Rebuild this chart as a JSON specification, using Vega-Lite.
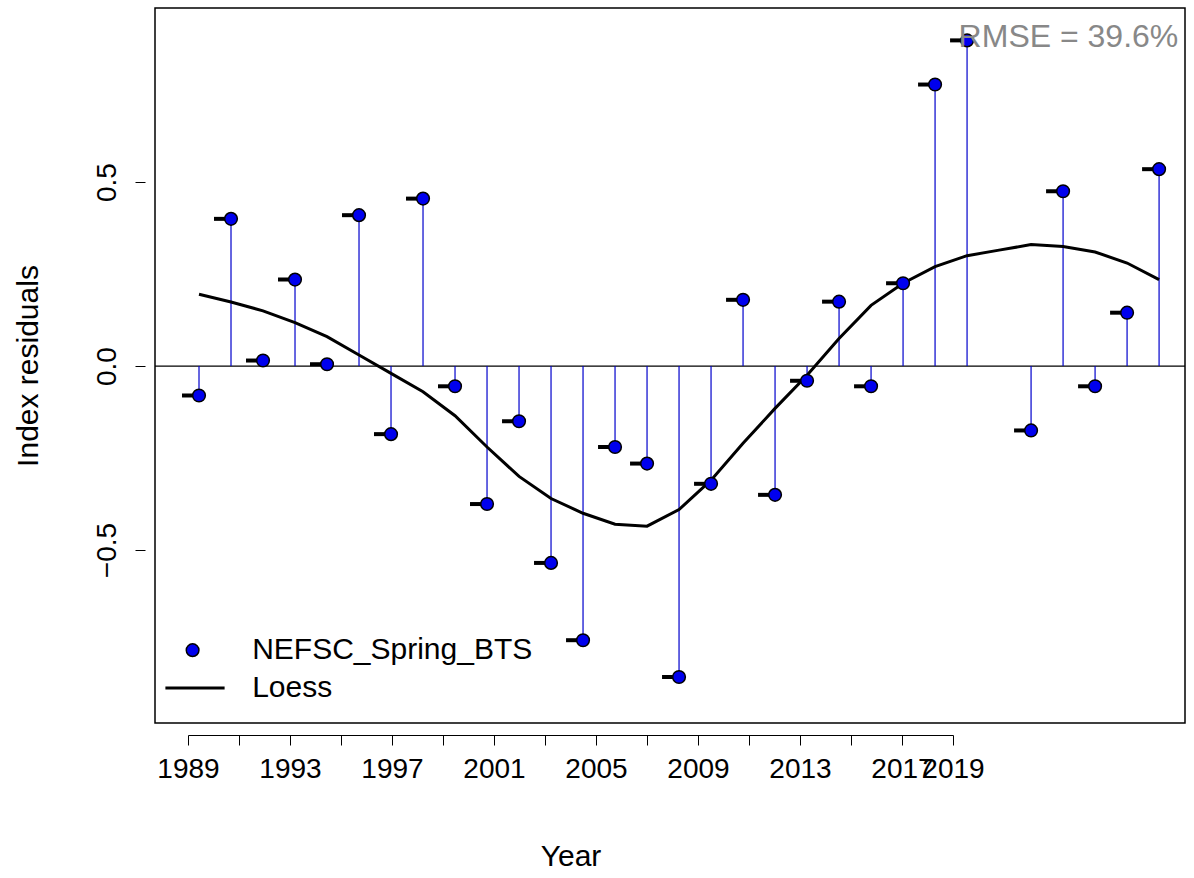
{
"$schema":"https://vega.github.io/schema/vega-lite/v6.json",
"width":1030,"height":715,
"autosize":{"type":"none"},
"padding":{"left":155,"top":8,"right":9,"bottom":155},
"config":{"view":{"stroke":"black","strokeWidth":1.5},"font":"Liberation Sans",
 "axis":{"labelFontSize":28,"labelColor":"black","titleFontSize":30,"titleFontWeight":"normal","titleColor":"black","tickColor":"black","domainColor":"black","grid":false,"tickSize":10}},
"datasets":{
"res":[
{"year":1989,"r":-0.08},{"year":1990,"r":0.40},{"year":1991,"r":0.015},{"year":1992,"r":0.235},{"year":1993,"r":0.005},{"year":1994,"r":0.41},{"year":1995,"r":-0.185},{"year":1996,"r":0.455},{"year":1997,"r":-0.055},{"year":1998,"r":-0.375},{"year":1999,"r":-0.15},{"year":2000,"r":-0.535},{"year":2001,"r":-0.745},{"year":2002,"r":-0.22},{"year":2003,"r":-0.265},{"year":2004,"r":-0.845},{"year":2005,"r":-0.32},{"year":2006,"r":0.18},{"year":2007,"r":-0.35},{"year":2008,"r":-0.04},{"year":2009,"r":0.175},{"year":2010,"r":-0.055},{"year":2011,"r":0.225},{"year":2012,"r":0.765},{"year":2013,"r":0.885},{"year":2015,"r":-0.175},{"year":2016,"r":0.475},{"year":2017,"r":-0.055},{"year":2018,"r":0.145},{"year":2019,"r":0.535}],
"loess":[
{"year":1989,"v":0.195},{"year":1990,"v":0.174},{"year":1991,"v":0.15},{"year":1992,"v":0.118},{"year":1993,"v":0.08},{"year":1994,"v":0.03},{"year":1995,"v":-0.02},{"year":1996,"v":-0.07},{"year":1997,"v":-0.135},{"year":1998,"v":-0.22},{"year":1999,"v":-0.30},{"year":2000,"v":-0.36},{"year":2001,"v":-0.40},{"year":2002,"v":-0.43},{"year":2003,"v":-0.435},{"year":2004,"v":-0.39},{"year":2005,"v":-0.31},{"year":2006,"v":-0.21},{"year":2007,"v":-0.115},{"year":2008,"v":-0.025},{"year":2009,"v":0.075},{"year":2010,"v":0.165},{"year":2011,"v":0.225},{"year":2012,"v":0.27},{"year":2013,"v":0.30},{"year":2014,"v":0.315},{"year":2015,"v":0.33},{"year":2016,"v":0.325},{"year":2017,"v":0.31},{"year":2018,"v":0.28},{"year":2019,"v":0.235}]
},
"resolve":{"scale":{"x":"independent"},"axis":{"x":"independent"}},
"layer":[
{"layer":[
{"data":{"values":[{"z":0}]},"mark":{"type":"rule","color":"black","strokeWidth":1.2},"encoding":{"y":{"field":"z","type":"quantitative"}}},
{"data":{"name":"res"},"mark":{"type":"rule","color":"#0000cc","strokeWidth":1.2},
 "encoding":{"x":{"field":"year","type":"quantitative","scale":{"domain":[1987.625,2019.81],"nice":false,"zero":false},"axis":null},
 "y":{"field":"r","type":"quantitative","scale":{"domain":[-0.97,0.973],"nice":false,"zero":false},
  "axis":{"values":[-0.5,0,0.5],"format":".1f","labelAngle":-90,"labelAlign":"center","labelBaseline":"bottom","domain":false,"offset":10,"labelPadding":14,"title":"Index residuals","titlePadding":50}},
 "y2":{"datum":0}}},
{"data":{"name":"loess"},"mark":{"type":"line","color":"black","strokeWidth":3},"encoding":{"x":{"field":"year","type":"quantitative"},"y":{"field":"v","type":"quantitative"}}},
{"data":{"name":"res"},"mark":{"type":"tick","orient":"horizontal","color":"black","opacity":1,"size":16,"thickness":4,"xOffset":-9},"encoding":{"x":{"field":"year","type":"quantitative"},"y":{"field":"r","type":"quantitative"}}},
{"data":{"name":"res"},"mark":{"type":"point","filled":true,"fill":"#0000ee","stroke":"black","strokeWidth":1.5,"size":160,"opacity":1},"encoding":{"x":{"field":"year","type":"quantitative"},"y":{"field":"r","type":"quantitative"}}},
{"data":{"values":[{"x":1988.8,"y":-0.772}]},"mark":{"type":"point","filled":true,"fill":"#0000ee","stroke":"black","strokeWidth":1.5,"size":160,"opacity":1},"encoding":{"x":{"field":"x","type":"quantitative"},"y":{"field":"y","type":"quantitative"}}},
{"data":{"values":[{"x":1987.95,"y":-0.875},{"x":1989.8,"y":-0.875}]},"mark":{"type":"line","color":"black","strokeWidth":3},"encoding":{"x":{"field":"x","type":"quantitative"},"y":{"field":"y","type":"quantitative"}}},
{"data":{"values":[{"x":1990.66,"y":-0.772,"t":"NEFSC_Spring_BTS"},{"x":1990.66,"y":-0.875,"t":"Loess"}]},"mark":{"type":"text","align":"left","baseline":"middle","fontSize":30},"encoding":{"x":{"field":"x","type":"quantitative"},"y":{"field":"y","type":"quantitative"},"text":{"field":"t"}}},
{"data":{"values":[{"x":2019.6,"y":0.895,"t":"RMSE = 39.6%"}]},"mark":{"type":"text","align":"right","baseline":"middle","fontSize":32,"color":"#888888"},"encoding":{"x":{"field":"x","type":"quantitative"},"y":{"field":"y","type":"quantitative"},"text":{"field":"t"}}}
]},
{"data":{"values":[{"year":1989},{"year":2019}]},"mark":{"type":"tick","opacity":0},
 "encoding":{"x":{"field":"year","type":"quantitative","scale":{"domain":[1989,2019],"range":[33,798],"nice":false,"zero":false},
  "axis":{"orient":"bottom","values":[1989,1991,1993,1995,1997,1999,2001,2003,2005,2007,2009,2011,2013,2015,2017,2019],"labelExpr":"indexof([1989,1993,1997,2001,2005,2009,2013,2017,2019],datum.value)>=0 ? datum.value+'' : ''","labelPadding":10,"labelFlush":false,"labelOverlap":false,"offset":12,"title":"Year","titlePadding":58}}}}
]
}
